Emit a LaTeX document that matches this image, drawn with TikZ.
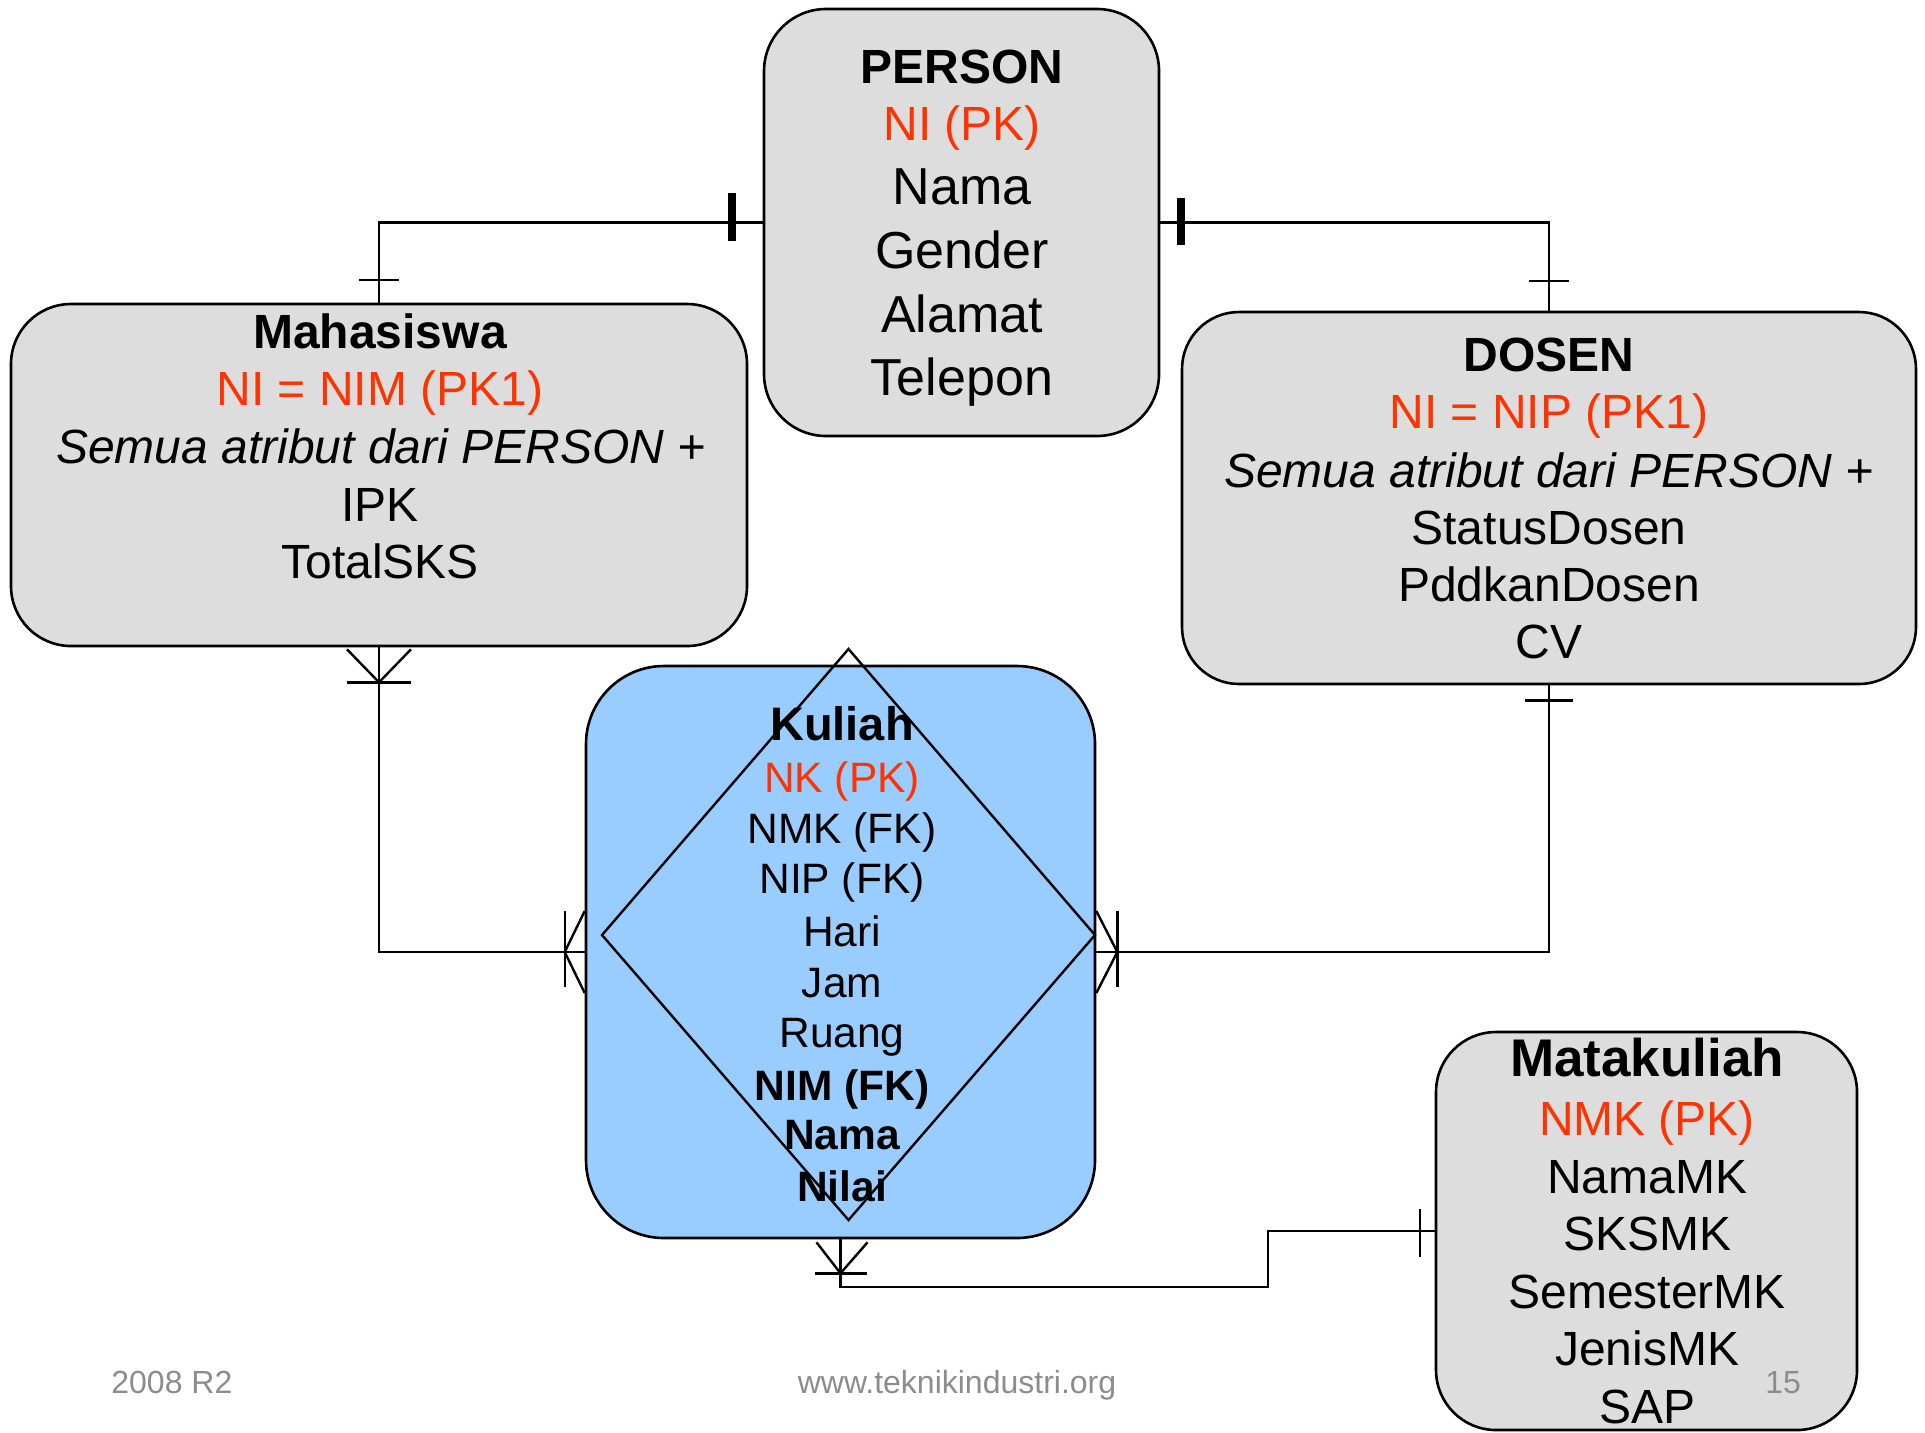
\documentclass[tikz,border=0pt]{standalone}
\usepackage{fontspec}
\setmainfont{Liberation Sans}
\usetikzlibrary{calc}
\definecolor{pkred}{HTML}{FF3300}
\definecolor{boxgray}{HTML}{DDDDDD}
\definecolor{kulblue}{HTML}{99CCFF}
\definecolor{footgray}{HTML}{8C8C8C}
\tikzset{
  entity/.style={draw=black, line width=1.3pt, fill=boxgray, inner sep=0pt, rectangle},
  conn/.style={draw=black, line width=1.1pt},
  thickbar/.style={draw=black, line width=4pt},
  tick/.style={draw=black, line width=1.2pt},
  txt/.style={anchor=base, inner sep=0pt},
  pk/.style={text=pkred},
  foot/.style={anchor=base, inner sep=0pt, text=footgray, font=\fontsize{16}{19}\selectfont},
}
\begin{document}
\begin{tikzpicture}[x=0.5pt,y=-0.5pt]
\useasboundingbox (0,0) rectangle (1925,1432);

% entity boxes
\node[entity, rounded corners=31pt, minimum width=197.5pt, minimum height=213.5pt] (person) at (961.5,222.5) {};
\node[entity, rounded corners=30pt, minimum width=368pt, minimum height=171pt] (mhs) at (379,475) {};
\node[entity, rounded corners=28.5pt, minimum width=367pt, minimum height=186pt] (dosen) at (1549,498) {};
\node[entity, fill=kulblue, rounded corners=39pt, minimum width=254.5pt, minimum height=286pt] (kul) at (840.5,952) {};
\node[entity, rounded corners=30pt, minimum width=210.5pt, minimum height=199pt] (mk) at (1646.5,1231) {};

% diamond inside Kuliah
\draw[line width=1.2pt] (848.5,649) -- (1095,935) -- (848.5,1220) -- (602,935) -- cycle;

% connectors
\coordinate (bend) at (1268,1287);
\draw[conn] (person.west) -| (mhs.north);
\draw[conn] (person.east) -| (dosen.north);
\draw[conn] (mhs.south) |- (kul.west);
\draw[conn] (dosen.south) |- (kul.east);
\draw[conn] (kul.south) |- (bend) |- (mk.west);

% PERSON - Mahasiswa
\draw[thickbar] ($(person.west)+(-31,-30)$) -- ($(person.west)+(-31,18)$);
\draw[tick] ($(mhs.north)+(-20,-23)$) -- ($(mhs.north)+(20,-23)$);
% PERSON - DOSEN
\draw[thickbar] ($(person.east)+(21,-25)$) -- ($(person.east)+(21,22)$);
\draw[tick] ($(dosen.north)+(-20,-30)$) -- ($(dosen.north)+(20,-30)$);
% Mahasiswa - Kuliah
\draw[tick] ($(mhs.south)+(-32,2)$) -- ($(mhs.south)+(0,35)$) -- ($(mhs.south)+(32,2)$);
\draw[tick] ($(mhs.south)+(-32,35)$) -- ($(mhs.south)+(32,35)$);
\draw[tick] ($(kul.west)+(0,-41)$) -- ($(kul.west)+(-20,0)$) -- ($(kul.west)+(0,41)$);
\draw[tick] ($(kul.west)+(-20,-41)$) -- ($(kul.west)+(-20,35)$);
% DOSEN - Kuliah
\draw[tick] ($(dosen.south)+(-24,15)$) -- ($(dosen.south)+(24,15)$);
\draw[tick] ($(kul.east)+(0,-41)$) -- ($(kul.east)+(21,0)$) -- ($(kul.east)+(0,41)$);
\draw[tick] ($(kul.east)+(21,-41)$) -- ($(kul.east)+(21,35)$);
% Kuliah - Matakuliah
\draw[tick] ($(kul.south)+(-24,3)$) -- ($(kul.south)+(0,34)$) -- ($(kul.south)+(27,3)$);
\draw[tick] ($(kul.south)+(-26,34)$) -- ($(kul.south)+(26,34)$);
\draw[tick] ($(mk.west)+(-15,-22)$) -- ($(mk.west)+(-15,26)$);

% PERSON text
\node[txt, font=\bfseries\fontsize{24}{28}\selectfont] (p1) at (962,83.5) {PERSON};
\node[txt, pk, font=\fontsize{24}{28}\selectfont] (p2) at (962,140.6) {NI (PK)};
\node[txt, font=\fontsize{26}{30}\selectfont] (p3) at (962,204) {Nama};
\node[txt, font=\fontsize{26}{30}\selectfont] (p4) at (962,268) {Gender};
\node[txt, font=\fontsize{26}{30}\selectfont] (p5) at (962,332.5) {Alamat};
\node[txt, font=\fontsize{26}{30}\selectfont] (p6) at (962,395) {Telepon};

% Mahasiswa text
\node[txt, font=\bfseries\fontsize{24}{28}\selectfont] (m1) at (380,348) {Mahasiswa};
\node[txt, pk, font=\fontsize{24}{28}\selectfont] (m2) at (380,405) {NI = NIM (PK1)};
\node[txt, font=\itshape\fontsize{24}{28}\selectfont] (m3) at (381,463) {Semua atribut dari PERSON +};
\node[txt, font=\fontsize{24}{28}\selectfont] (m4) at (380,521) {IPK};
\node[txt, font=\fontsize{24}{28}\selectfont] (m5) at (380,578) {TotalSKS};

% DOSEN text
\node[txt, font=\bfseries\fontsize{24}{28}\selectfont] (d1) at (1549,371) {DOSEN};
\node[txt, pk, font=\fontsize{24}{28}\selectfont] (d2) at (1549,428) {NI = NIP (PK1)};
\node[txt, font=\itshape\fontsize{24}{28}\selectfont] (d3) at (1549,487) {Semua atribut dari PERSON +};
\node[txt, font=\fontsize{24}{28}\selectfont] (d4) at (1549,544) {StatusDosen};
\node[txt, font=\fontsize{24}{28}\selectfont] (d5) at (1549,601.5) {PddkanDosen};
\node[txt, font=\fontsize{24}{28}\selectfont] (d6) at (1549,658) {CV};

% Kuliah text
\node[txt, font=\bfseries\fontsize{23.5}{27}\selectfont] (k1) at (842,740.5) {Kuliah};
\node[txt, pk, font=\fontsize{21.25}{25}\selectfont] (k2) at (842,792) {NK (PK)};
\node[txt, font=\fontsize{21.25}{25}\selectfont] (k3) at (842,843) {NMK (FK)};
\node[txt, font=\fontsize{21.25}{25}\selectfont] (k4) at (842,893.5) {NIP (FK)};
\node[txt, font=\fontsize{21.25}{25}\selectfont] (k5) at (842,946) {Hari};
\node[txt, font=\fontsize{21.25}{25}\selectfont] (k6) at (842,997) {Jam};
\node[txt, font=\fontsize{21.25}{25}\selectfont] (k7) at (842,1047.5) {Ruang};
\node[txt, font=\bfseries\fontsize{21.25}{25}\selectfont] (k8) at (842,1100) {NIM (FK)};
\node[txt, font=\bfseries\fontsize{21.25}{25}\selectfont] (k9) at (842,1149.5) {Nama};
\node[txt, font=\bfseries\fontsize{21.25}{25}\selectfont] (k10) at (842,1201) {Nilai};

% Matakuliah text
\node[txt, font=\bfseries\fontsize{26.5}{30}\selectfont] (t1) at (1647,1076) {Matakuliah};
\node[txt, pk, font=\fontsize{24}{28}\selectfont] (t2) at (1647,1135) {NMK (PK)};
\node[txt, font=\fontsize{24}{28}\selectfont] (t3) at (1647,1193) {NamaMK};
\node[txt, font=\fontsize{24}{28}\selectfont] (t4) at (1647,1250) {SKSMK};
\node[txt, font=\fontsize{24}{28}\selectfont] (t5) at (1647,1308) {SemesterMK};
\node[txt, font=\fontsize{24}{28}\selectfont] (t6) at (1647,1365) {JenisMK};
\node[txt, font=\fontsize{24}{28}\selectfont] (t7) at (1647,1423) {SAP};

% footer
\node[foot, anchor=base west] (f1) at (111,1393) {2008 R2};
\node[foot] (f2) at (957,1393) {www.teknikindustri.org};
\node[foot, anchor=base west] (f3) at (1765,1393) {15};
\end{tikzpicture}
\end{document}
